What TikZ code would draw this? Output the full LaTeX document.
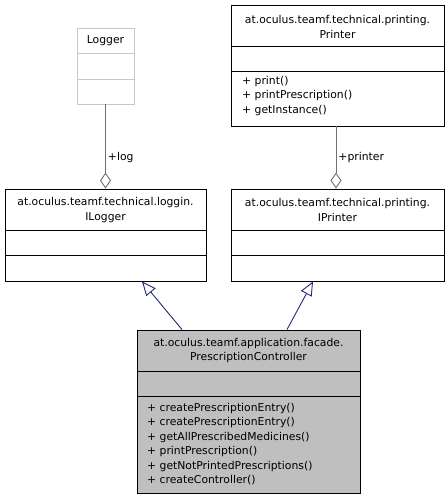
\documentclass[tikz,border=0pt]{standalone}
\usepackage{fontspec}
\setmainfont{DejaVu Sans}
\usetikzlibrary{arrows.meta}
\definecolor{genblue}{RGB}{38,38,120}
\definecolor{aggray}{RGB}{112,112,112}
\definecolor{paleborder}{RGB}{200,200,200}
\definecolor{classfill}{RGB}{191,191,191}
\tikzset{
  classbox/.style={draw=black, line width=0.9pt, fill=white, inner sep=0pt},
  txt/.style={inner sep=0pt, font=\fontsize{10.8}{14.5}\selectfont, align=center},
  members/.style={inner sep=0pt, font=\fontsize{10.8}{14.5}\selectfont, align=left, anchor=north west},
  agg/.style={draw=aggray, line width=0.9pt, -{Diamond[open, length=16pt, width=11pt, fill=white]}},
  gen/.style={draw=genblue, line width=0.9pt, -{Triangle[open, length=14pt, width=12pt, fill=white]}}
}
\begin{document}
\begin{tikzpicture}[x=1pt, y=-1pt]
  \useasboundingbox (0,0) rectangle (447,501);
  \fill[white] (0,0) rectangle (447,501);

  % Logger
  \node[classbox, draw=paleborder, minimum width=57pt, minimum height=76pt] (Logger) at (105.5,66) {};
  \draw[paleborder, line width=0.9pt] (77,53) -- (134,53) (77,79) -- (134,79);
  \node[txt] (LoggerName) at (105.5,41) {Logger};

  % Printer
  \node[classbox, minimum width=213pt, minimum height=121pt] (Printer) at (337.5,65.5) {};
  \draw[line width=0.9pt] (231,46) -- (444,46) (231,71) -- (444,71);
  \node[txt] (PrinterName) at (337.5,27) {at.oculus.teamf.technical.printing.\\Printer};
  \node[members] (PrinterOps) at (242,76) {+ print()\\+ printPrescription()\\+ getInstance()};

  % ILogger
  \node[classbox, minimum width=201pt, minimum height=92pt] (ILogger) at (105.5,235) {};
  \draw[line width=0.9pt] (5,230) -- (206,230) (5,255) -- (206,255);
  \node[txt] (ILoggerName) at (105.5,210) {at.oculus.teamf.technical.loggin.\\ILogger};

  % IPrinter
  \node[classbox, minimum width=213pt, minimum height=92pt] (IPrinter) at (337.5,235) {};
  \draw[line width=0.9pt] (231,230) -- (444,230) (231,255) -- (444,255);
  \node[txt] (IPrinterName) at (337.5,210) {at.oculus.teamf.technical.printing.\\IPrinter};

  % PrescriptionController
  \node[classbox, fill=classfill, minimum width=223pt, minimum height=163pt] (PC) at (248.5,411.5) {};
  \draw[line width=0.9pt] (137,371) -- (360,371) (137,396) -- (360,396);
  \node[txt] (PCName) at (248.5,350.5) {at.oculus.teamf.application.facade.\\PrescriptionController};
  \node[members] (PCOps) at (147,403) {+ createPrescriptionEntry()\\+ createPrescriptionEntry()\\+ getAllPrescribedMedicines()\\+ printPrescription()\\+ getNotPrintedPrescriptions()\\+ createController()};

  % associations (aggregation)
  \draw[agg] (Logger.south) -- (Logger.south |- ILogger.north)
    node[pos=0.63, right=2pt, txt] (logLabel) {+log};
  \draw[agg] ([xshift=-1.5pt]Printer.south) -- ([xshift=-1.5pt]Printer.south |- IPrinter.north)
    node[pos=0.5, right=2pt, txt] (printerLabel) {+printer};

  % generalizations
  \draw[gen] ([xshift=-66.5pt]PC.north) -- ([xshift=36.5pt]ILogger.south);
  \draw[gen] ([xshift=38.5pt]PC.north) -- ([xshift=-24.5pt]IPrinter.south);
\end{tikzpicture}
\end{document}
